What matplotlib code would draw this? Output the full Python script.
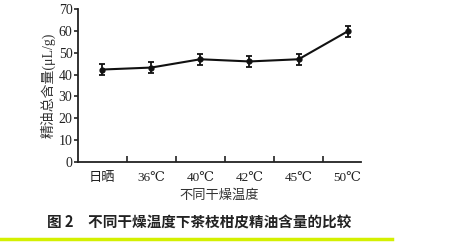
import matplotlib
matplotlib.use("Agg")
import matplotlib.pyplot as plt
from matplotlib.lines import Line2D

categories = ["日晒", "36℃", "40℃", "42℃", "45℃", "50℃"]
values = [42.3, 43.2, 47.0, 46.0, 47.0, 59.8]
errors = [2.7, 2.7, 2.6, 2.4, 2.4, 2.6]
yticks = [0, 10, 20, 30, 40, 50, 60, 70]

fam = ["Liberation Serif", "DejaVu Serif", "Noto Sans CJK SC", "DejaVu Sans"]
plt.rcParams["font.family"] = fam

fig = plt.figure(figsize=(4.77, 2.45), dpi=100)
ax = fig.add_axes([0.1635, 0.3388, 0.5933, 0.6245])
x = list(range(len(categories)))
ax.errorbar(x, values, yerr=errors, color="#111111", lw=1.5, marker="o",
            ms=3.5, capsize=2.5, elinewidth=1.3, capthick=1.3)
ax.set_xlim(-0.49, 5.27)
ax.set_ylim(0, 70)
ax.set_yticks(yticks)
ax.set_yticklabels([str(v) for v in yticks], fontsize=10, color="#222222")
ax.set_xticks([i + 0.5 for i in range(5)])
ax.set_xticklabels([])
for i, lab in enumerate(categories):
    ax.annotate(lab, xy=(i, 0), xycoords=("data", "axes fraction"),
                xytext=(0, -14), textcoords="offset points",
                ha="center", va="baseline", fontsize=9.5, color="#222222")
ax.tick_params(axis="x", which="major", length=4, width=1.2, direction="in", color="#222222")
ax.tick_params(axis="y", length=3, width=1.2, direction="out", color="#222222", pad=1)
for s in ["top", "right"]:
    ax.spines[s].set_visible(False)
for s in ["left", "bottom"]:
    ax.spines[s].set_linewidth(1.3)
    ax.spines[s].set_color("#222222")
ax.set_xlabel("不同干燥温度", fontsize=9.5, color="#333333", labelpad=16)
ax.set_ylabel("精油总含量(μL/g)", fontsize=10, color="#333333", labelpad=2)

fig.text(0.0985, 0.090, "图 2　不同干燥温度下茶枝柑皮精油含量的比较", fontsize=10.5,
         fontweight="bold", color="#222222", va="center", ha="left",
         family=["Noto Sans CJK SC", "DejaVu Sans"])
fig.add_artist(Line2D([0.0, 0.822], [0.025, 0.025], color="#d4f000", lw=2.5,
                      transform=fig.transFigure))
fig.savefig("out.png", dpi=100)
